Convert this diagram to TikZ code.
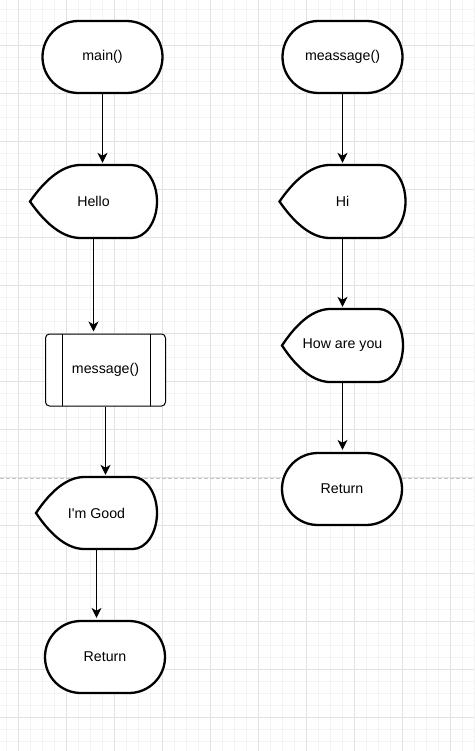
\documentclass[tikz,border=0pt]{standalone}
\usepackage{fontspec}
\setmainfont{Liberation Sans}[Ligatures=TeXOff]
\usetikzlibrary{arrows.meta,calc}
\definecolor{gridminor}{HTML}{F4F4F4}
\definecolor{gridmajor}{HTML}{E2E2E2}
\definecolor{pagebreak}{HTML}{C4C4C4}
\tikzset{
  txt/.style={inner sep=0pt, font=\fontsize{14.2}{17}\selectfont, text=black},
  shp/.style={draw=black, line width=2.3pt, fill=white},
  term/.style={txt, shp, rounded corners=35.9pt, minimum width=120pt, minimum height=72pt},
  proc/.style={txt, draw=black, line width=1pt, fill=white, rounded corners=4pt, minimum width=120pt, minimum height=72pt},
  procline/.style={draw=black, line width=1pt},
  conn/.style={draw=black, line width=1.2pt, -{Stealth[length=10pt,width=10pt,inset=3pt]}, shorten >=2pt}
}
\newcommand\dispnode[6]{% name, cx, cy, w, h, text
  \pgfmathsetmacro\hw{#4/2}\pgfmathsetmacro\hh{#5/2}%
  \pgfmathsetmacro\dl{0.4*#4}\pgfmathsetmacro\dr{0.2*#4}%
  \begin{scope}[shift={(#2,#3)}]
    \draw[shp] (-\hw,0)
      .. controls ({-\hw+\dl/3},{-\hh+\hh/3}) and ({-\hw+2*\dl/3},{-\hh}) .. ({-\hw+\dl},{-\hh})
      -- ({\hw-\dr},{-\hh})
      .. controls ({\hw-\dr+0.552*\dr},{-\hh}) and ({\hw},{-0.552*\hh}) .. (\hw,0)
      .. controls ({\hw},{0.552*\hh}) and ({\hw-\dr+0.552*\dr},{\hh}) .. ({\hw-\dr},{\hh})
      -- ({-\hw+\dl},{\hh})
      .. controls ({-\hw+2*\dl/3},{\hh}) and ({-\hw+\dl/3},{\hh-\hh/3}) .. cycle;
  \end{scope}
  \node[txt, minimum width=#4 pt, minimum height=#5 pt] (#1) at (#2,#3) {#6};
}
\begin{document}
\begin{tikzpicture}[x=1pt,y=-1pt]
  \useasboundingbox (0,0) rectangle (474,751);
  \fill[white] (0,0) rectangle (474,751);
  % grid
  \foreach \x in {6,18,...,474} \draw[gridminor, line width=0.8pt] (\x,0) -- (\x,751);
  \foreach \y in {9,21,...,751} \draw[gridminor, line width=0.8pt] (0,\y) -- (474,\y);
  \foreach \x in {18,66,...,450} \draw[gridmajor, line width=0.9pt] (\x,0) -- (\x,751);
  \foreach \y in {45,93,...,717} \draw[gridmajor, line width=0.9pt] (0,\y) -- (474,\y);
  % page break
  \draw[pagebreak, line width=0.9pt, dash pattern=on 4pt off 2pt] (0,478) -- (474,478);

  % left column
  \node[term] (main) at (102.5,57) {main()};
  \dispnode{hello}{93.5}{201.5}{127}{73}{Hello}
  \node[proc] (msg) at (105.5,370) {message()};
  \draw[procline] (msg.north west) ++(17,0) -- ++(0,72);
  \draw[procline] (msg.north east) ++(-16,0) -- ++(0,72);
  \dispnode{good}{96.5}{513}{121}{72}{I'm Good}
  \node[term] (retl) at (105,657) {Return};

  % right column
  \node[term] (meas) at (342.5,57) {meassage()};
  \dispnode{hi}{342.5}{201.5}{126}{73}{Hi}
  \dispnode{how}{342.5}{345.5}{121}{73}{How are you}
  \node[term] (retr) at (342,489) {Return};

  % connectors
  \draw[conn] (main.south) -- (main.south |- hello.north);
  \draw[conn] (hello.south) -- (hello.south |- msg.north);
  \draw[conn] (msg.south) -- (msg.south |- good.north);
  \draw[conn] (good.south) -- (good.south |- retl.north);
  \draw[conn] (meas.south) -- (meas.south |- hi.north);
  \draw[conn] (hi.south) -- (hi.south |- how.north);
  \draw[conn] (how.south) -- (how.south |- retr.north);
\end{tikzpicture}
\end{document}
